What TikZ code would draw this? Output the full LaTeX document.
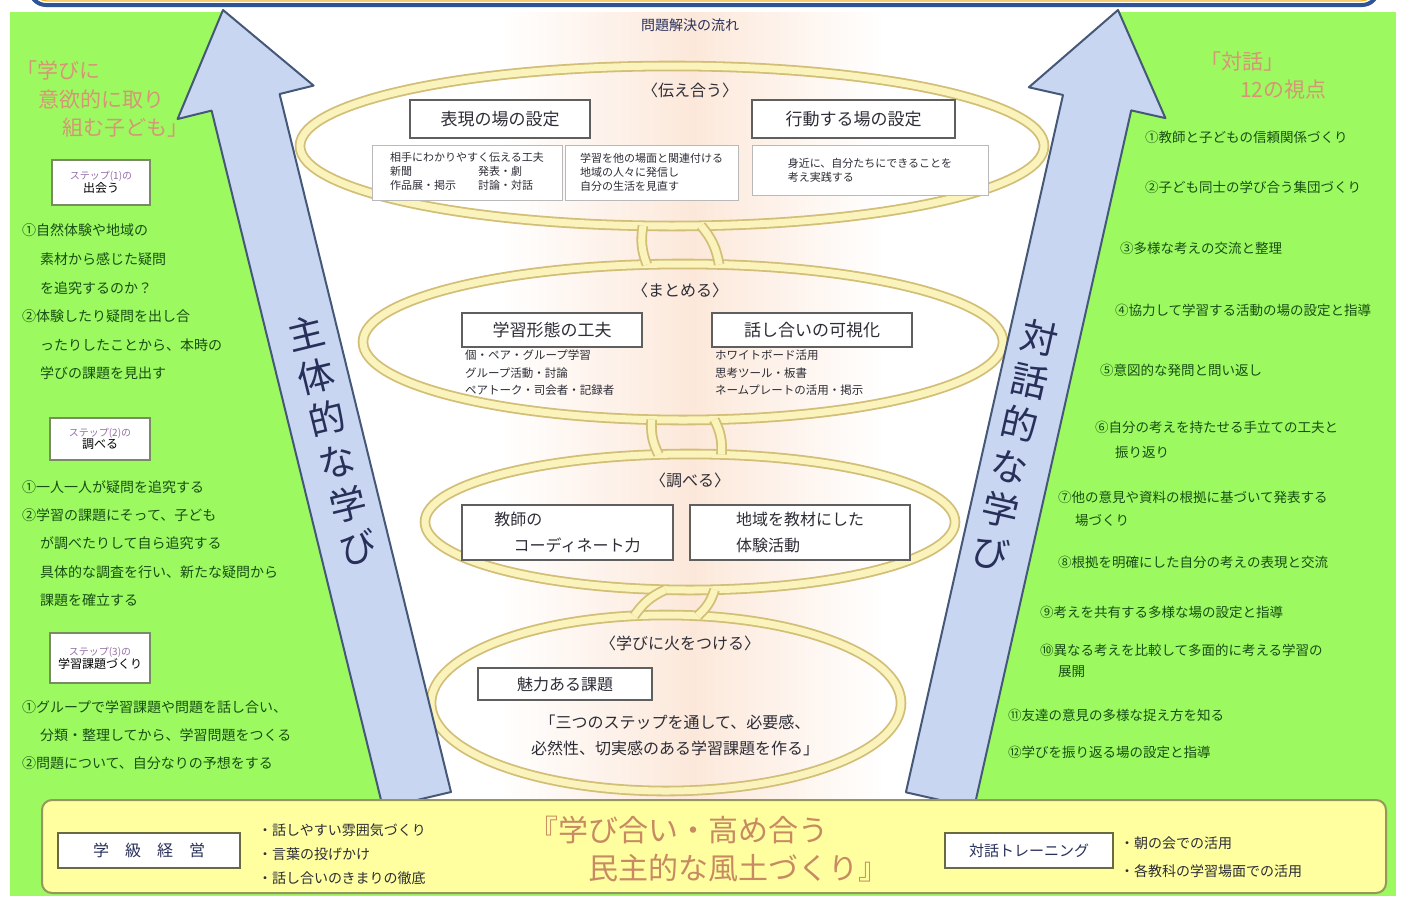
\documentclass[tikz,border=0pt]{standalone}
\usepackage{fontspec}
\setmainfont{Noto Sans CJK JP}
\usetikzlibrary{shapes.geometric}
\definecolor{bggreen}{RGB}{156,250,96}
\definecolor{darkgreen}{RGB}{24,78,20}
\definecolor{salmon}{RGB}{214,150,118}
\definecolor{navy}{RGB}{40,48,90}
\definecolor{ink}{RGB}{45,45,55}
\definecolor{arrowfill}{RGB}{200,214,242}
\definecolor{arrowedge}{RGB}{70,88,120}
\definecolor{ringout}{RGB}{210,190,118}
\definecolor{ringin}{RGB}{250,244,188}
\definecolor{peach}{RGB}{252,232,218}
\definecolor{boxedge}{RGB}{95,95,95}
\definecolor{stepedge}{RGB}{120,140,100}
\definecolor{stepsmall}{RGB}{150,110,165}
\definecolor{yellowbg}{RGB}{255,255,160}
\definecolor{yellowedge}{RGB}{150,150,95}
\definecolor{barblue}{RGB}{46,84,150}
\definecolor{barorange}{RGB}{240,180,40}
\definecolor{mottotext}{RGB}{200,138,98}
\begin{document}
\begin{tikzpicture}[x=1bp,y=-1bp,
  every node/.style={inner sep=0pt, outer sep=0pt},
  fsmall/.style={font=\fontsize{11bp}{14bp}\selectfont},
  flist/.style={font=\fontsize{11.5bp}{17.5bp}\selectfont},
  fnorm/.style={font=\fontsize{14bp}{16bp}\selectfont},
  fright/.style={font=\fontsize{13.5bp}{16bp}\selectfont},
  fmid/.style={font=\fontsize{16bp}{26bp}\selectfont},
  fbox/.style={font=\fontsize{17bp}{20bp}\selectfont},
  ftitle/.style={font=\fontsize{21bp}{24bp}\selectfont},
  fhuge/.style={font=\fontsize{30bp}{34bp}\selectfont},
  fvert/.style={font=\fontsize{37bp}{44bp}\selectfont},
  ring/.style={ellipse, draw=ringout, line width=1.8bp, double=ringin, double distance=7bp},
  band/.style={draw=ringout, line width=1.8bp, double=ringin, double distance=7bp},
  titlebox/.style={draw=boxedge, line width=1.6bp, fill=white, text=ink},
  smallbox/.style={draw=gray!55, line width=0.8bp, fill=white, text=ink},
  stepbox/.style={draw=stepedge, line width=2.2bp, fill=white, align=center},
  lefttxt/.style={anchor=west, text=darkgreen, fnorm},
  righttxt/.style={anchor=west, text=darkgreen, fright},
  ringlbl/.style={text=ink, font=\fontsize{16bp}{18bp}\selectfont},
  bigarrow/.style={fill=arrowfill, draw=arrowedge, line width=2bp, line join=round},
  verttxt/.style={fvert, text=navy, align=center},
  salmontxt/.style={anchor=west, text=salmon, ftitle},
  bullet/.style={anchor=west, text=ink, fnorm}
]
\useasboundingbox (0,0) rectangle (1404,899);
\fill[white] (0,0) rectangle (1404,899);
\fill[bggreen] (10,12) rectangle (1396,896);

% funnel
\begin{scope}
  \clip (223,12) -- (1118,12) -- (940,800) -- (417,800) -- cycle;
  \fill[white] (0,0) rectangle (1404,899);
  \shade[left color=white, right color=white, middle color=peach] (500,12) rectangle (885,800);
\end{scope}

% top bar
\draw[barblue, line width=4bp, rounded corners=16bp, fill=white] (30,-60) rectangle (1378,5);
\draw[barorange, line width=1.2bp, rounded corners=13bp] (34,-60) rectangle (1374,1);

\node[text=navy, fnorm] (flow) at (690,25) {問題解決の流れ};

% rings
\node[ring, minimum width=744bp, minimum height=160bp] (r1) at (672,146) {};
\node[ring, minimum width=640bp, minimum height=156bp] (r2) at (683,342) {};
\node[ring, minimum width=530bp, minimum height=136bp] (r3) at (690,522) {};
\node[ring, minimum width=470bp, minimum height=176bp] (r4) at (666,703) {};

\draw[band] (r1.250) to[bend right=15] (r2.115);
\draw[band] (r1.290) to[bend left=15] (r2.65);
\draw[band] (r2.248) to[bend right=15] (r3.115);
\draw[band] (r2.292) to[bend left=15] (r3.65);
\draw[band] (r3.250) to[bend right=15] (r4.110);
\draw[band] (r3.290) to[bend left=15] (r4.70);

% ring 1
\node[ringlbl] (l1) at (690,90) {〈伝え合う〉};
\node[titlebox, fbox, minimum width=180bp, minimum height=38bp] (b11) at (500,119) {表現の場の設定};
\node[titlebox, fbox, minimum width=203bp, minimum height=38bp] (b12) at (853.5,119) {行動する場の設定};
\node[smallbox, fsmall, minimum width=190bp, minimum height=55bp] (s11) at (467,172.5)
  {\begin{tabular}{@{}l@{\hspace{22bp}}l@{}}\multicolumn{2}{@{}l@{}}{相手にわかりやすく伝える工夫}\\ 新聞 & 発表・劇\\ 作品展・掲示 & 討論・対話\end{tabular}};
\node[smallbox, fsmall, minimum width=173bp, minimum height=55bp, align=left] (s12) at (651.5,172.5)
  {学習を他の場面と関連付ける\\地域の人々に発信し\\自分の生活を見直す};
\node[smallbox, fsmall, minimum width=236bp, minimum height=50bp, align=left] (s13) at (870,170)
  {身近に、自分たちにできることを\\考え実践する};

% ring 2
\node[ringlbl] (l2) at (680,290) {〈まとめる〉};
\node[titlebox, fbox, minimum width=180bp, minimum height=34bp] (b21) at (552,330) {学習形態の工夫};
\node[titlebox, fbox, minimum width=200bp, minimum height=34bp] (b22) at (812,330) {話し合いの可視化};
\node[anchor=north west, flist, text=ink, align=left] (li21) at (465,350)
  {個・ペア・グループ学習\\グループ活動・討論\\ペアトーク・司会者・記録者};
\node[anchor=north west, flist, text=ink, align=left] (li22) at (715,350)
  {ホワイトボード活用\\思考ツール・板書\\ネームプレートの活用・掲示};

% ring 3
\node[ringlbl] (l3) at (690,480) {〈調べる〉};
\node[titlebox, fmid, minimum width=211bp, minimum height=55bp, align=left] (b31) at (567.5,532.5)
  {教師の\\\hspace*{1.2em}コーディネート力};
\node[titlebox, fmid, minimum width=220bp, minimum height=55bp, align=left] (b32) at (800,532.5)
  {地域を教材にした\\体験活動};

% ring 4
\node[ringlbl] (l4) at (680,643) {〈学びに火をつける〉};
\node[titlebox, font=\fontsize{16bp}{18bp}\selectfont, minimum width=174bp, minimum height=32bp] (b41) at (565,684) {魅力ある課題};
\node[fmid, text=ink, align=center] (t41) at (675,735)
  {「三つのステップを通して、必要感、\\必然性、切実感のある学習課題を作る」};

% big arrows
\draw[bigarrow] (383,808) -- (211.6,110.6) -- (177.6,119) -- (223,10) -- (313.6,85.6) -- (279.6,94) -- (451,792) -- cycle;
\draw[bigarrow] (905.9,792.3) -- (1063,95) -- (1028.8,87.3) -- (1118,10) -- (1165.4,118.1) -- (1131.2,110.4) -- (974.1,807.7) -- cycle;
\node[verttxt, rotate=13.8] (va) at (332,440) {主\\体\\的\\な\\学\\び};
\node[verttxt, rotate=-12.7] (vb) at (1015,445) {対\\話\\的\\な\\学\\び};

% left column
\node[salmontxt] (lt1) at (16,70) {「学びに};
\node[salmontxt] (lt2) at (38,99) {意欲的に取り};
\node[salmontxt] (lt3) at (62,128) {組む子ども」};

\node[stepbox, minimum width=98bp, minimum height=45bp] (st1) at (101,182.5)
  {{\color{stepsmall}\fontsize{10bp}{12bp}\selectfont ステップ(1)の}\\{\fontsize{12bp}{15bp}\selectfont 出会う}};
\node[lefttxt] at (22,230) {①自然体験や地域の};
\node[lefttxt] at (40,259) {素材から感じた疑問};
\node[lefttxt] at (40,288) {を追究するのか？};
\node[lefttxt] at (22,316) {②体験したり疑問を出し合};
\node[lefttxt] at (40,345) {ったりしたことから、本時の};
\node[lefttxt] at (40,373) {学びの課題を見出す};

\node[stepbox, minimum width=100bp, minimum height=42bp] (st2) at (100,439)
  {{\color{stepsmall}\fontsize{10bp}{12bp}\selectfont ステップ(2)の}\\{\fontsize{12bp}{15bp}\selectfont 調べる}};
\node[lefttxt] at (22,487) {①一人一人が疑問を追究する};
\node[lefttxt] at (22,515) {②学習の課題にそって、子ども};
\node[lefttxt] at (40,543) {が調べたりして自ら追究する};
\node[lefttxt] at (40,572) {具体的な調査を行い、新たな疑問から};
\node[lefttxt] at (40,600) {課題を確立する};

\node[stepbox, minimum width=100bp, minimum height=50bp] (st3) at (100,658)
  {{\color{stepsmall}\fontsize{10bp}{12bp}\selectfont ステップ(3)の}\\{\fontsize{12bp}{15bp}\selectfont 学習課題づくり}};
\node[lefttxt] at (22,707) {①グループで学習課題や問題を話し合い、};
\node[lefttxt] at (40,735) {分類・整理してから、学習問題をつくる};
\node[lefttxt] at (22,763) {②問題について、自分なりの予想をする};

% right column
\node[salmontxt] (rt1) at (1200,62) {「対話」};
\node[salmontxt] (rt2) at (1240,90) {12の視点};
\node[righttxt] at (1145,137) {①教師と子どもの信頼関係づくり};
\node[righttxt] at (1145,187) {②子ども同士の学び合う集団づくり};
\node[righttxt] at (1120,248) {③多様な考えの交流と整理};
\node[righttxt] at (1115,310) {④協力して学習する活動の場の設定と指導};
\node[righttxt] at (1100,370) {⑤意図的な発問と問い返し};
\node[righttxt] at (1095,427) {⑥自分の考えを持たせる手立ての工夫と};
\node[righttxt] at (1115,452) {振り返り};
\node[righttxt] at (1058,497) {⑦他の意見や資料の根拠に基づいて発表する};
\node[righttxt] at (1075,520) {場づくり};
\node[righttxt] at (1058,562) {⑧根拠を明確にした自分の考えの表現と交流};
\node[righttxt] at (1040,612) {⑨考えを共有する多様な場の設定と指導};
\node[righttxt] at (1040,650) {⑩異なる考えを比較して多面的に考える学習の};
\node[righttxt] at (1058,672) {展開};
\node[righttxt] at (1008,715) {⑪友達の意見の多様な捉え方を知る};
\node[righttxt] at (1008,752) {⑫学びを振り返る場の設定と指導};

% bottom box
\draw[yellowedge, line width=2bp, fill=yellowbg, rounded corners=10bp] (42,800) rectangle (1386,893);
\node[draw=yellowedge!70!black, line width=2bp, fill=white, minimum width=182bp, minimum height=35bp, text=navy, font=\fontsize{16bp}{18bp}\selectfont] (gk) at (149,850.5) {学\hspace{1em}級\hspace{1em}経\hspace{1em}営};
\node[bullet] at (258,830) {・話しやすい雰囲気づくり};
\node[bullet] at (258,854) {・言葉の投げかけ};
\node[bullet] at (258,878) {・話し合いのきまりの徹底};
\node[anchor=west, text=mottotext, fhuge] (m1) at (528,830) {『学び合い・高め合う};
\node[anchor=west, text=mottotext, fhuge] (m2) at (588,868) {民主的な風土づくり』};
\node[draw=yellowedge!70!black, line width=2bp, fill=white, minimum width=168bp, minimum height=35bp, text=navy, font=\fontsize{15bp}{17bp}\selectfont] (tt) at (1029,850.5) {対話トレーニング};
\node[bullet] at (1120,843) {・朝の会での活用};
\node[bullet] at (1120,871) {・各教科の学習場面での活用};
\end{tikzpicture}
\end{document}
